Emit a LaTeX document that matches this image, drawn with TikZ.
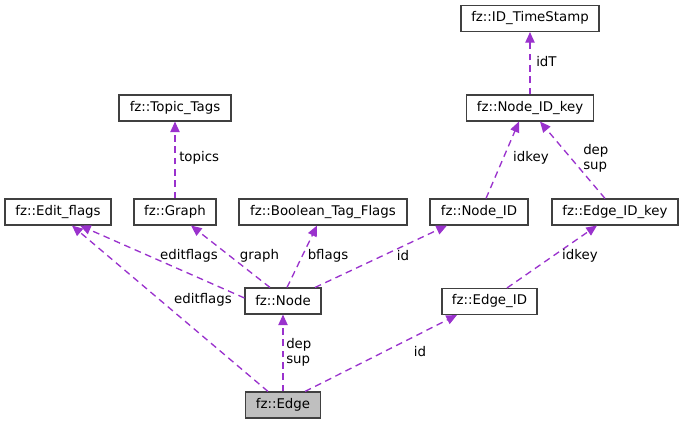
\documentclass[tikz,border=0pt]{standalone}
\usepackage{fontspec}
\setmainfont{DejaVu Sans}
\usetikzlibrary{arrows.meta,calc}
\definecolor{relcol}{RGB}{154,50,205}

\begin{document}
\begin{tikzpicture}[x=.75pt,y=-.75pt,font=\fontsize{10}{11.3}\selectfont,
  cls/.style={draw=black!75,line width=.8pt,fill=white,minimum height=19.5pt,inner sep=0pt},
  rel/.style={draw=relcol,dash pattern=on 5pt off 3.5pt,line width=1pt,-{Triangle[length=8pt,width=7pt]}},
  lbl/.style={inner sep=0pt,align=left}]
\useasboundingbox (0,0) rectangle (683,424);
% classes
\node[cls,minimum width=103.5pt] (ts) at (530,18.5) {fz::ID\_TimeStamp};
\node[cls,minimum width=95.25pt] (nkey) at (530,108) {fz::Node\_ID\_key};
\node[cls,minimum width=84pt] (tt) at (175,108) {fz::Topic\_Tags};
\node[cls,minimum width=79.5pt] (eflags) at (58,212) {fz::Edit\_flags};
\node[cls,minimum width=61.5pt] (graph) at (175,212) {fz::Graph};
\node[cls,minimum width=126pt] (bflags) at (323,212) {fz::Boolean\_Tag\_Flags};
\node[cls,minimum width=73.5pt] (nid) at (479,212) {fz::Node\_ID};
\node[cls,minimum width=94.5pt] (ekey) at (615,212) {fz::Edge\_ID\_key};
\node[cls,minimum width=57pt] (node) at (283,301) {fz::Node};
\node[cls,minimum width=71.25pt] (eid) at (489.5,301.5) {fz::Edge\_ID};
\node[cls,minimum width=56.25pt,fill=black!25] (edge) at (283,405) {fz::Edge};
% relations
\draw[rel] (nkey) -- (ts);
\node[lbl,anchor=west] (l1) at (536,62) {idT};
\draw[rel] ($(nid.north)+(7,0)$) -- ($(nkey.south)+(-11,0)$);
\node[lbl] (l2) at (531,158) {idkey};
\draw[rel] ($(ekey.north)+(-10,0)$) -- ($(nkey.south)+(10,0)$);
\node[lbl,anchor=west] (l3) at (583,158) {dep\\sup};
\draw[rel] (graph) -- (tt);
\node[lbl,anchor=west] (l4) at (179,158) {topics};
\draw[rel] ($(node.west)+(0,-3)$) -- ($(eflags.south)+(22,0)$);
\node[lbl] (l5) at (189,256) {editflags};
\draw[rel] ($(node.north)+(-13,0)$) -- ($(graph.south)+(16,0)$);
\node[lbl] (l6) at (259.5,256) {graph};
\draw[rel] ($(node.north)+(4,0)$) -- ($(bflags.south)+(-6,0)$);
\node[lbl] (l7) at (328,256) {bflags};
\draw[rel] ($(node.north)+(32,0)$) -- ($(nid.south)+(-32,0)$);
\node[lbl] (l8) at (403,256) {id};
\draw[rel] ($(eid.north)+(17.5,0)$) -- ($(ekey.south)+(-18,0)$);
\node[lbl] (l9) at (580,256) {idkey};
\draw[rel] (edge) -- (node);
\node[lbl,anchor=west] (l10) at (286,352) {dep\\sup};
\draw[rel] ($(edge.north)+(-15,0)$) -- ($(eflags.south)+(14,0)$);
\node[lbl] (l11) at (203,300) {editflags};
\draw[rel] ($(edge.north)+(22,0)$) -- ($(eid.south)+(-32.5,0)$);
\node[lbl] (l12) at (420,352) {id};
\end{tikzpicture}
\end{document}
